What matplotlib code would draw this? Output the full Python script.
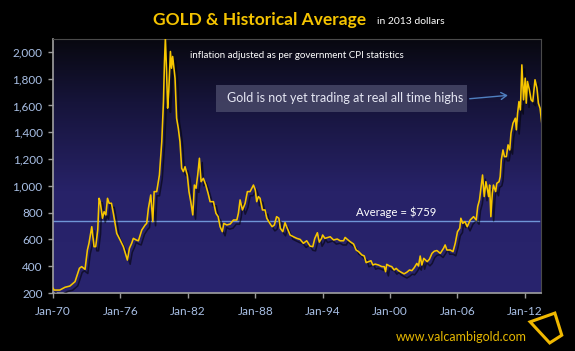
import numpy as np
import matplotlib
matplotlib.use('Agg')
import matplotlib.pyplot as plt
import matplotlib.patheffects as pe
from matplotlib.colors import LinearSegmentedColormap
from matplotlib.patches import FancyBboxPatch, Polygon, FancyArrowPatch

# gold price, inflation adjusted (2013 dollars)
years = [1970.0, 1970.1, 1970.6, 1971.07, 1971.5, 1971.96, 1972.35, 1972.55, 1972.85, 1973.06,
         1973.2, 1973.45, 1973.65, 1973.8, 1973.98, 1974.1, 1974.2, 1974.4, 1974.55, 1974.7,
         1974.85, 1975.0, 1975.2, 1975.37, 1975.67, 1975.97, 1976.26, 1976.62, 1976.8, 1977.0,
         1977.15, 1977.4, 1977.6, 1977.9, 1978.2, 1978.34, 1978.49, 1978.7, 1978.88, 1979.0,
         1979.23, 1979.47, 1979.68, 1979.83, 1979.92, 1980.0, 1980.1, 1980.2, 1980.3, 1980.45,
         1980.55, 1980.65, 1980.86, 1981.0, 1981.15, 1981.3, 1981.45, 1981.6, 1981.75, 1981.95,
         1982.1, 1982.26, 1982.44, 1982.58, 1982.73, 1982.88, 1983.03, 1983.18, 1983.38, 1983.6,
         1983.8, 1983.98, 1984.28, 1984.5, 1984.7, 1984.87, 1985.07, 1985.2, 1985.47, 1985.77,
         1986.06, 1986.36, 1986.5, 1986.65, 1986.86, 1987.1, 1987.3, 1987.54, 1987.84, 1988.0,
         1988.13, 1988.28, 1988.43, 1988.64, 1988.87, 1989.03, 1989.3, 1989.5, 1989.7, 1989.9,
         1990.1, 1990.23, 1990.45, 1990.65, 1990.85, 1991.1, 1991.4, 1991.7, 1992.0, 1992.28,
         1992.58, 1992.88, 1993.12, 1993.3, 1993.53, 1993.7, 1993.9, 1994.0, 1994.2, 1994.67,
         1994.97, 1995.3, 1995.56, 1995.86, 1996.0, 1996.2, 1996.45, 1996.75, 1996.98, 1997.2,
         1997.49, 1997.7, 1997.87, 1998.08, 1998.3, 1998.47, 1998.68, 1998.97, 1999.27, 1999.48,
         1999.6, 1999.7, 1999.95, 2000.15, 2000.36, 2000.54, 2000.75, 2001.05, 2001.25, 2001.49,
         2001.73, 2001.94, 2002.15, 2002.38, 2002.53, 2002.68, 2002.83, 2003.0, 2003.3, 2003.5,
         2003.73, 2003.93, 2004.17, 2004.47, 2004.76, 2004.9, 2005.06, 2005.36, 2005.6, 2005.8,
         2006.0, 2006.2, 2006.3, 2006.47, 2006.66, 2006.87, 2007.13, 2007.43, 2007.67, 2007.8,
         2007.96, 2008.1, 2008.23, 2008.38, 2008.53, 2008.67, 2008.77, 2008.86, 2008.97, 2009.1,
         2009.2, 2009.4, 2009.5, 2009.7, 2009.8, 2009.9, 2010.05, 2010.18, 2010.35, 2010.5,
         2010.65, 2010.76, 2010.94, 2011.15, 2011.24, 2011.35, 2011.47, 2011.6, 2011.73, 2011.88,
         2012.03, 2012.12, 2012.23, 2012.4, 2012.55, 2012.7, 2012.9, 2013.07, 2013.2, 2013.35,
         2013.52]
gold = [235, 222, 222, 243, 252, 285, 385, 397, 377, 521,
        571, 695, 546, 546, 670, 907, 882, 758, 807, 783,
        907, 870, 870, 795, 645, 596, 546, 446, 534, 571,
        608, 596, 590, 670, 708, 720, 832, 932, 733, 957,
        957, 1081, 1330, 1629, 1928, 2100, 1878, 1580, 1704, 2003,
        1878, 1966, 1804, 1505, 1430, 1330, 1131, 1106, 1143, 1081,
        957, 882, 783, 1006, 982, 1081, 1206, 1031, 1056, 1006,
        945, 882, 882, 795, 770, 695, 658, 720, 708, 715,
        745, 745, 795, 895, 820, 870, 957, 957, 1006, 970,
        882, 920, 907, 820, 820, 758, 720, 695, 708, 770,
        758, 683, 658, 725, 683, 633, 620, 608, 600, 571,
        590, 550, 546, 608, 650, 580, 608, 633, 608, 620,
        596, 603, 590, 590, 615, 600, 583, 566, 521, 509,
        484, 477, 427, 434, 441, 409, 416, 409, 397, 397,
        359, 414, 402, 397, 372, 384, 367, 352, 343, 355,
        372, 367, 389, 421, 402, 476, 409, 459, 434, 452,
        496, 512, 517, 496, 534, 559, 521, 521, 509, 571,
        658, 683, 758, 720, 733, 695, 745, 770, 745, 845,
        895, 994, 1081, 920, 1031, 970, 920, 1006, 770, 945,
        1006, 957, 1019, 1031, 1068, 1193, 1268, 1218, 1218, 1306,
        1268, 1393, 1468, 1505, 1418, 1542, 1629, 1567, 1903, 1642,
        1804, 1617, 1779, 1717, 1642, 1629, 1792, 1729, 1617, 1579,
        1455]
avg_label = 759
avg_line = 737
tick_years = [1970, 1976, 1982, 1988, 1994, 2000, 2006, 2012]
tick_labels = ['Jan-70', 'Jan-76', 'Jan-82', 'Jan-88', 'Jan-94', 'Jan-00', 'Jan-06', 'Jan-12']
y_ticks = [200, 400, 600, 800, 1000, 1200, 1400, 1600, 1800, 2000]

plt.rcParams['font.family'] = ['Lato', 'DejaVu Sans']

fig = plt.figure(figsize=(5.75, 3.51), dpi=100, facecolor='black')
ax = fig.add_axes([0.0922, 0.1652, 0.849, 0.724])

# background gradient, dark at top, blue-purple lower down
cmap = LinearSegmentedColormap.from_list('bg', [(0.0, '#08080f'), (0.25, '#16143a'),
                                                (0.6, '#272268'), (1.0, '#29246e')])
grad = np.linspace(0, 1, 256).reshape(-1, 1)
ax.imshow(grad, cmap=cmap, aspect='auto', extent=[0, 1, 0, 1], origin='upper',
          transform=ax.transAxes, zorder=0)

ax.axhline(avg_line, color='#6f95d6', lw=1.0, zorder=2, xmax=0.995)
ax.plot(years, gold, color='#f7c600', lw=1.15, zorder=3,
        path_effects=[pe.SimpleLineShadow(offset=(2, -3), shadow_color='black', alpha=0.55),
                      pe.Normal()])

ax.set_xlim(1970, 2013.45)
ax.set_ylim(200, 2097)
ax.set_xticks(tick_years)
ax.set_xticklabels(tick_labels)
ax.set_yticks(y_ticks)
ax.set_yticklabels([f'{v:,}' for v in y_ticks])
ax.tick_params(colors='#9a9a9a', labelcolor='#a9c0e6', labelsize=8.5, length=3.5, width=1)
ax.tick_params(axis='y', pad=4)
ax.tick_params(axis='x', pad=6)
for side in ['left', 'bottom']:
    ax.spines[side].set_color('#a0a0a0')
    ax.spines[side].set_linewidth(1.2)
for side in ['top', 'right']:
    ax.spines[side].set_color('#4a4a4a')

fig.text(0.452, 0.943, 'GOLD & Historical Average', color='#f5c400', fontsize=12.5,
         fontweight='bold', ha='center', va='center')
fig.text(0.715, 0.94, 'in 2013 dollars', color='white', fontsize=7.5, ha='center', va='center')
ax.text(0.5, 0.935, 'inflation adjusted as per government CPI statistics', color='white',
        fontsize=7, ha='center', va='center', transform=ax.transAxes)
ax.text(2000.5, 800, f'Average = ${avg_label}', color='white', fontsize=8.2,
        ha='center', va='center', zorder=4)

box = FancyBboxPatch((0.3757, 0.681), 0.4365, 0.077, boxstyle='square,pad=0',
                     transform=fig.transFigure, facecolor='#4a4a6a', alpha=0.8,
                     edgecolor='none', zorder=5)
fig.patches.append(box)
fig.text(0.395, 0.721, 'Gold is not yet trading at real all time highs', color='#e6e8f4',
         fontsize=9, ha='left', va='center', zorder=6)
fig.patches.append(FancyArrowPatch(
    (0.812, 0.718), (0.888, 0.729), transform=fig.transFigure,
    arrowstyle='->,head_length=4,head_width=2.5', color='#4f7fc0', lw=1.0))

fig.text(0.917, 0.04, 'www.valcambigold.com', color='#e6b800', fontsize=9,
         ha='right', va='center')
logo = Polygon([[0.922, 0.083], [0.965, 0.108], [0.977, 0.045], [0.956, 0.023]], closed=True,
               transform=fig.transFigure, fill=False, edgecolor='#f0b800', lw=2.2)
fig.patches.append(logo)

fig.savefig('out.png', dpi=100, facecolor='black')
